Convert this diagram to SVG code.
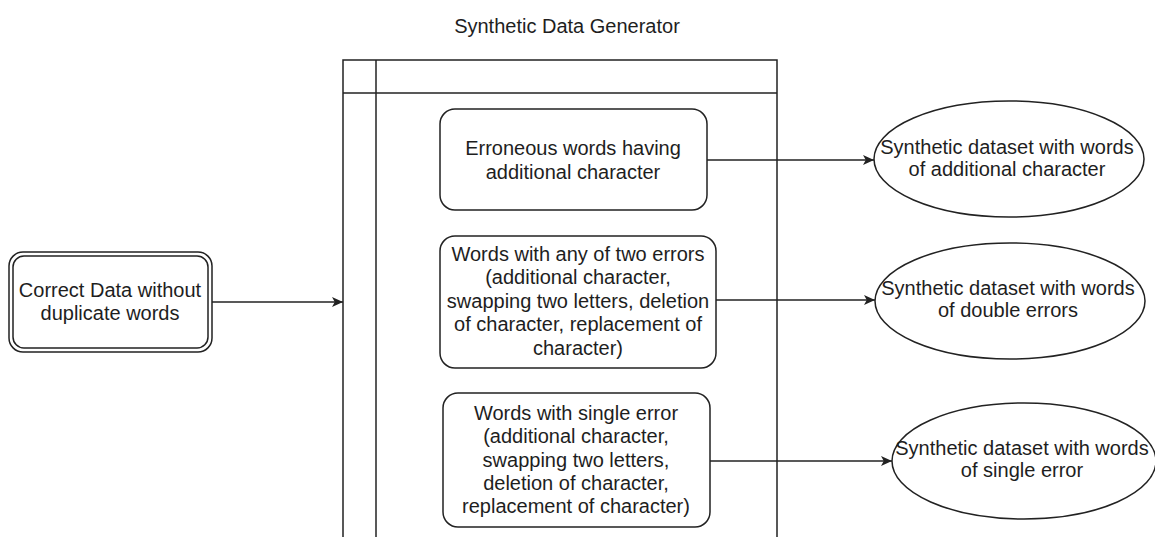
<svg xmlns="http://www.w3.org/2000/svg" width="1155" height="537" viewBox="0 0 1155 537">
  <style>
    .shape { fill: #ffffff; stroke: #222222; stroke-width: 1.5; }
    .frame { fill: none; stroke: #222222; stroke-width: 1.5; }
    .edge { fill: none; stroke: #222222; stroke-width: 1.5; }
    text { font-family: "Liberation Sans", Arial, Helvetica, sans-serif; font-size: 20px; fill: #1e1e1e; text-anchor: middle; }
  </style>
  <defs>
    <marker id="arrow" viewBox="0 0 10 10" refX="10" refY="5" markerWidth="11" markerHeight="11" markerUnits="userSpaceOnUse" orient="auto">
      <path d="M0,0.5 L10,5 L0,9.5 L2.5,5 Z" fill="#222222"/>
    </marker>
  </defs>
  <rect width="1155" height="537" fill="#ffffff"/>

  <!-- pool title -->
  <text x="567" y="33">Synthetic Data Generator</text>

  <!-- pool frame with header row and lane column -->
  <g id="pool">
    <path class="frame" d="M343,545 V60 H777 V545"/>
    <line class="frame" x1="343" y1="93" x2="777" y2="93"/>
    <line class="frame" x1="376" y1="60" x2="376" y2="545"/>
  </g>

  <!-- connectors -->
  <g id="connectors">
    <line class="edge" x1="212" y1="302" x2="343" y2="302" marker-end="url(#arrow)"/>
    <line class="edge" x1="707" y1="160" x2="874" y2="160" marker-end="url(#arrow)"/>
    <line class="edge" x1="716" y1="300" x2="875" y2="300" marker-end="url(#arrow)"/>
    <line class="edge" x1="710" y1="461" x2="892" y2="461" marker-end="url(#arrow)"/>
  </g>

  <!-- input -->
  <g id="correct-data">
    <rect class="shape" x="9" y="252" width="203" height="100" rx="14"/>
    <rect class="frame" x="13" y="256" width="195" height="92" rx="11"/>
    <text x="110" y="297">Correct Data without</text>
    <text x="110" y="320">duplicate words</text>
  </g>

  <!-- generators -->
  <g id="gen-additional">
    <rect class="shape" x="440" y="109" width="267" height="101" rx="15"/>
    <text x="573" y="155">Erroneous words having</text>
    <text x="573" y="179">additional character</text>
  </g>

  <g id="gen-double">
    <rect class="shape" x="440" y="236" width="276" height="132" rx="15"/>
    <text x="578" y="261">Words with any of two errors</text>
    <text x="578" y="284">(additional character,</text>
    <text x="578" y="308">swapping two letters, deletion</text>
    <text x="578" y="331">of character, replacement of</text>
    <text x="578" y="355">character)</text>
  </g>

  <g id="gen-single">
    <rect class="shape" x="443" y="393" width="267" height="134" rx="15"/>
    <text x="576" y="420">Words with single error</text>
    <text x="576" y="443">(additional character,</text>
    <text x="576" y="467">swapping two letters,</text>
    <text x="576" y="490">deletion of character,</text>
    <text x="576" y="513">replacement of character)</text>
  </g>

  <!-- outputs -->
  <g id="out-additional">
    <ellipse class="shape" cx="1009" cy="159" rx="135" ry="58"/>
    <text x="1007" y="154">Synthetic dataset with words</text>
    <text x="1007" y="176">of additional character</text>
  </g>

  <g id="out-double">
    <ellipse class="shape" cx="1010" cy="301" rx="135" ry="58"/>
    <text x="1008" y="295">Synthetic dataset with words</text>
    <text x="1008" y="317">of double errors</text>
  </g>

  <g id="out-single">
    <ellipse class="shape" cx="1024" cy="461" rx="132" ry="58"/>
    <text x="1022" y="455">Synthetic dataset with words</text>
    <text x="1022" y="477">of single error</text>
  </g>
</svg>
